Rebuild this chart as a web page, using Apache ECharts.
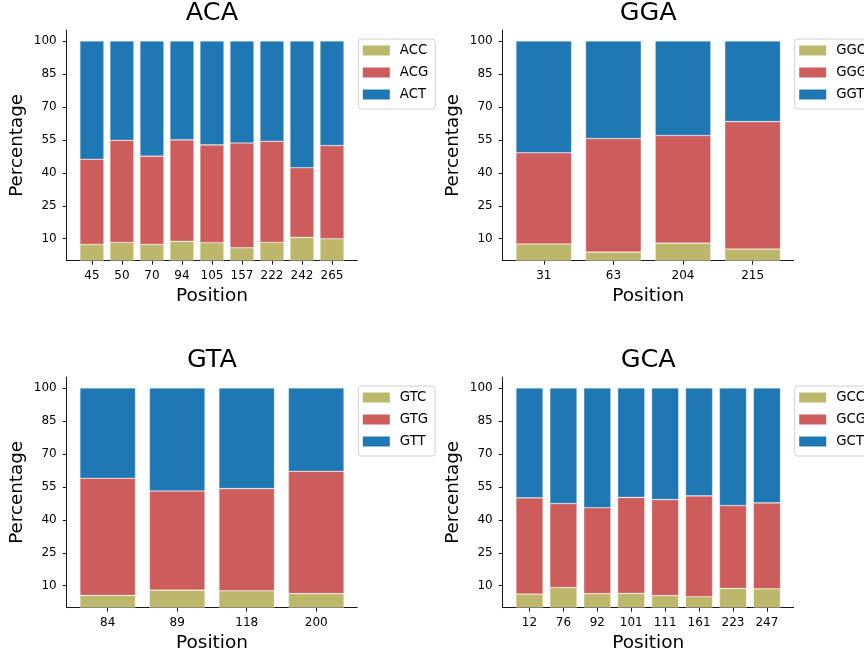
<!DOCTYPE html>
<html>
<head>
<meta charset="utf-8">
<script src="https://cdn.jsdelivr.net/npm/echarts@6/dist/echarts.min.js"></script>
<style>html,body{margin:0;padding:0;background:#fff}#c{width:864px;height:661px}</style>
</head>
<body>
<div id="c"></div>
<script>
// ---- data ----
const yTicks = [10, 25, 40, 55, 70, 85, 100];

const acaPositions = ['45', '50', '70', '94', '105', '157', '222', '242', '265'];
const acaACC = [7.4, 8.3, 7.4, 8.8, 8.2, 5.9, 8.3, 10.6, 10.0];
const acaACG = [38.8, 46.5, 40.2, 46.2, 44.5, 47.7, 46.1, 31.7, 42.4];
const acaACT = [53.8, 45.2, 52.4, 45.0, 47.3, 46.4, 45.6, 57.7, 47.6];

const ggaPositions = ['31', '63', '204', '215'];
const ggaGGC = [7.6, 3.9, 8.0, 5.3];
const ggaGGG = [41.5, 51.7, 49.0, 58.0];
const ggaGGT = [50.9, 44.4, 43.0, 36.7];

const gtaPositions = ['84', '89', '118', '200'];
const gtaGTC = [5.6, 8.0, 7.7, 6.4];
const gtaGTG = [53.3, 45.1, 46.5, 55.7];
const gtaGTT = [41.1, 46.9, 45.8, 37.9];

const gcaPositions = ['12', '76', '92', '101', '111', '161', '223', '247'];
const gcaGCC = [6.2, 9.2, 6.4, 6.5, 5.5, 5.0, 8.8, 8.6];
const gcaGCG = [43.8, 38.2, 39.1, 43.7, 43.7, 45.9, 37.7, 39.1];
const gcaGCT = [50.0, 52.6, 54.5, 49.8, 50.8, 49.1, 53.5, 52.3];

const colors = ['#BDB76B', '#CD5C5C', '#1F77B4'];
const FONT = 'DejaVu Sans';

// ---- panels ----
const panels = [
  { title: 'ACA', cats: acaPositions, names: ['ACC', 'ACG', 'ACT'], vals: [acaACC, acaACG, acaACT],
    grid: { left: 66.7, top: 30, width: 290.5, height: 230.7 }, legend: { left: 358.3, top: 39 } },
  { title: 'GGA', cats: ggaPositions, names: ['GGC', 'GGG', 'GGT'], vals: [ggaGGC, ggaGGG, ggaGGT],
    grid: { left: 502.7, top: 30, width: 291, height: 230.7 }, legend: { left: 794.7, top: 39 } },
  { title: 'GTA', cats: gtaPositions, names: ['GTC', 'GTG', 'GTT'], vals: [gtaGTC, gtaGTG, gtaGTT],
    grid: { left: 66.7, top: 377, width: 290.5, height: 230.7 }, legend: { left: 358.3, top: 386 } },
  { title: 'GCA', cats: gcaPositions, names: ['GCC', 'GCG', 'GCT'], vals: [gcaGCC, gcaGCG, gcaGCT],
    grid: { left: 502.7, top: 377, width: 291, height: 230.7 }, legend: { left: 794.7, top: 386 } }
];

const option = { animation: false, grid: [], xAxis: [], yAxis: [], series: [], legend: [], graphic: [] };

panels.forEach((p, gi) => {
  const n = p.cats.length;
  const span = n - 0.2;
  const margin = 0.05 * span;
  option.grid.push(Object.assign({ containLabel: false }, p.grid));
  const idx = p.cats.map((c, i) => i);
  option.xAxis.push({
    type: 'value', gridIndex: gi, min: -0.4 - margin, max: n - 1 + 0.4 + margin,
    name: 'Position', nameLocation: 'middle', nameGap: 26,
    nameTextStyle: { fontFamily: FONT, fontSize: 18.5, color: '#000' },
    axisLine: { show: true, onZero: false, lineStyle: { color: '#000', width: 0.9 } },
    axisTick: { show: true, length: 4, customValues: idx, lineStyle: { color: '#000', width: 0.9 } },
    axisLabel: { customValues: idx, margin: 9.5, fontFamily: FONT, fontSize: 12, color: '#000',
      formatter: v => p.cats[Math.round(v)] },
    splitLine: { show: false }
  });
  option.yAxis.push({
    type: 'value', gridIndex: gi, min: 0, max: 105,
    name: 'Percentage', nameLocation: 'middle', nameGap: 40,
    nameTextStyle: { fontFamily: FONT, fontSize: 18.3, color: '#000' },
    axisLine: { show: true, onZero: false, lineStyle: { color: '#000', width: 0.9 } },
    axisTick: { show: true, length: 4, customValues: yTicks, lineStyle: { color: '#000', width: 0.9 } },
    axisLabel: { customValues: yTicks, margin: 10, fontFamily: FONT, fontSize: 12, color: '#000' },
    splitLine: { show: false }
  });
  p.names.forEach((nm, si) => {
    option.series.push({
      type: 'bar', name: nm, xAxisIndex: gi, yAxisIndex: gi, stack: 'st' + gi,
      barWidth: '80%',
      encode: { x: 1, y: 0 },
      itemStyle: { color: colors[si], borderColor: 'rgba(255,255,255,0.45)', borderWidth: 0.6 },
      data: p.vals[si].map((v, i) => [v, i])
    });
  });
  option.legend.push({
    data: p.names, orient: 'vertical', left: p.legend.left, top: p.legend.top,
    icon: 'rect', itemWidth: 27, itemHeight: 10, itemGap: 9,
    padding: [5, 7, 8, 4.5],
    backgroundColor: 'rgba(255,255,255,0.8)', borderColor: '#d0d0d0', borderWidth: 1, borderRadius: 3,
    itemStyle: { borderWidth: 0 },
    textStyle: { fontFamily: FONT, fontSize: 13.3, color: '#000', lineHeight: 10, padding: [0, 0, 0, 5] },
    selectedMode: false
  });
  option.graphic.push({
    type: 'text', x: p.grid.left + p.grid.width / 2, y: p.grid.top - 16.7,
    style: { text: p.title, font: '25.5px "' + FONT + '"', fill: '#000', textAlign: 'center', textVerticalAlign: 'middle' }
  });
});

const chart = echarts.init(document.getElementById('c'), null, { renderer: 'canvas' });
chart.setOption(option);
</script>
</body>
</html>
